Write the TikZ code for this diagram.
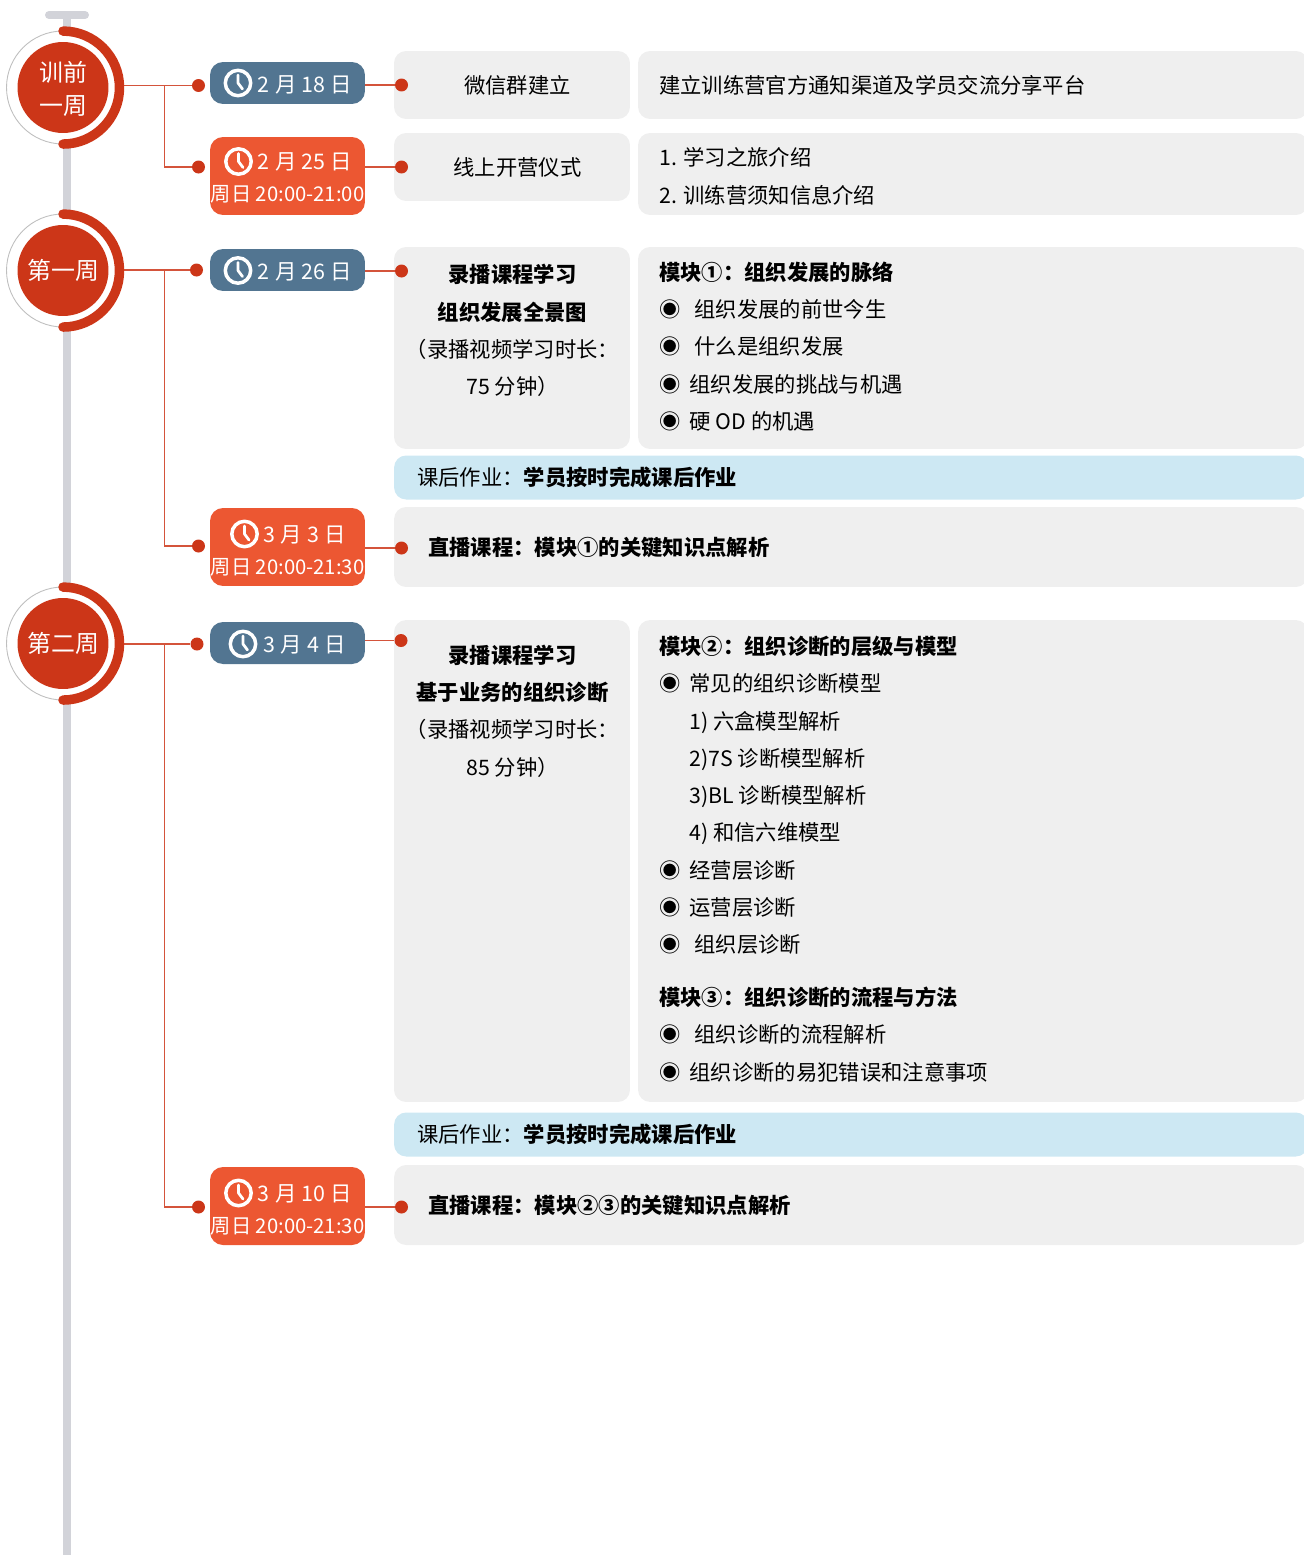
\documentclass[tikz,border=0pt]{standalone}
\usepackage{fontspec}
\setmainfont{Noto Sans CJK SC}
\newfontfamily\cstdatefont[WordSpace=1.08]{Noto Sans CJK SC}
\definecolor{main}{RGB}{204,54,24}
\definecolor{second}{RGB}{236,87,50}
\definecolor{third}{RGB}{82,117,145}
\definecolor{fourth}{RGB}{239,239,239}
\definecolor{fifth}{RGB}{205,232,243}
\definecolor{sixth}{RGB}{210,211,217}
\newcommand{\cstbul}{◉\hspace{.18cm}}
\newcommand{\cstbulw}{◉\hspace{.28cm}}
\newcommand{\cstdate}[1]{\hspace*{.7cm}\cstdatefont #1}
\newcommand{\csttime}[1]{{\fontsize{11.55}{18.4}\selectfont #1}}
\tikzset{
	% bar and week circles
	cstbar/.style      ={line width=.16cm,sixth},
	cstcap/.style      ={line width=.16cm,sixth,line cap=round},
	cstring/.style     ={circle,draw=black!25,fill=white,line width=.5pt,minimum size=2.26cm,inner sep=0},
	cstweek/.style     ={circle,fill=main,text=white,minimum size=1.82cm,inner sep=0,align=center,font=\fontsize{13.6}{18.4}\selectfont},
	cstarc/.style      ={main,line width=.19cm,line cap=round},
	% connector
	cstline/.style     ={main!85!white,line width=.75pt},
	cstdot/.style      ={circle,fill=main,minimum size=.26cm,inner sep=0},
	% date
	cstpill/.style     ={rounded corners=.26cm,minimum width=3.1cm,inner sep=0},
	cstpill1/.style    ={cstpill,fill=third,minimum height=.84cm},
	cstpill2/.style    ={cstpill,fill=second,minimum height=1.56cm},
	cstday/.style      ={inner sep=0,text=white,align=center,font=\fontsize{12.2}{18.4}\selectfont},
	% boxes
	cstbox/.style      ={fill=fourth,rounded corners=.24cm,inner sep=0,align=center,font=\fontsize{12.13}{21.2}\selectfont},
	cstbox1/.style     ={cstbox,minimum width=4.72cm},
	cstbox2/.style     ={cstbox,minimum width=13.4cm},
	cstbox3/.style     ={cstbox,minimum width=18.28cm,minimum height=1.6cm},
	cstnote/.style     ={cstbox,fill=fifth,minimum width=18.28cm,minimum height=.88cm},
	csttext/.style     ={inner sep=0,align=left,anchor=west,font=\fontsize{12.13}{21.2}\selectfont},
	cstmid/.style      ={inner sep=0,align=center,font=\fontsize{12.13}{21.2}\selectfont},
	clockicon/.pic     ={
		\draw[white,line width=.07cm] (0,0) circle (12.7);
		\draw[white,line width=.055cm,line cap=round,line join=round] (0,-8)--(0,0)--(4.5,6);
	}
}
\begin{document}
\begin{tikzpicture}[x=.02cm,y=-.02cm]
	\useasboundingbox (0,0) rectangle (1303,1555);
	% time line
	\coordinate (top) at (67,15);
	\coordinate (end) at (67,1555);
	\draw[cstbar] (top)--(end);
	\coordinate (capl) at (49,15);
	\coordinate (capr) at (85,15);
	\draw[cstcap] (capl)--(capr);
	% boxes
	\node[cstbox1,minimum height=1.36cm] (a1) at (512,85) {\hspace*{.22cm}微信群建立};
	\node[cstbox2,minimum height=1.36cm] (b1) at (973,85) {};
	\node[csttext] (t1) at (659,85) {建立训练营官方通知渠道及学员交流分享平台};
	\node[cstbox1,minimum height=1.36cm] (a2) at (512,167) {\hspace*{.22cm}线上开营仪式};
	\node[cstbox2,minimum height=1.64cm] (b2) at (973,174) {};
	\node[csttext] (t2) at (659,176.3) {1. 学习之旅介绍\\2. 训练营须知信息介绍};
	\node[cstbox1,minimum height=4.04cm] (a3) at (512,348) {};
	\node[cstmid] (m3) at (512.5,330.5) {\textbf{录播课程学习}\\\textbf{组织发展全景图}\\（录播视频学习时长：\\75 分钟）};
	\node[cstbox2,minimum height=4.04cm] (b3) at (973,348) {};
	\node[csttext] (t3) at (659,346.5) {\textbf{模块①：组织发展的脉络}\\\cstbulw 组织发展的前世今生\\\cstbulw 什么是组织发展\\\cstbul 组织发展的挑战与机遇\\\cstbul 硬 OD 的机遇};
	\node[cstnote] (n3) at (851,477.5) {};
	\node[csttext] (nt3) at (417,477) {课后作业：\textbf{学员按时完成课后作业}};
	\node[cstbox3] (w4) at (851,547) {};
	\node[csttext] (t4) at (428,547.5) {\textbf{直播课程：模块①的关键知识点解析}};
	\node[cstbox1,minimum height=9.64cm] (a5) at (512,861) {};
	\node[cstmid] (m5) at (512.5,711) {\textbf{录播课程学习}\\\textbf{基于业务的组织诊断}\\（录播视频学习时长：\\85 分钟）};
	\node[cstbox2,minimum height=9.64cm] (b5) at (973,861) {};
	\node[csttext] (t5) at (659,795.4) {\textbf{模块②：组织诊断的层级与模型}\\\cstbul 常见的组织诊断模型\\\hspace*{.6cm}1) 六盒模型解析\\\hspace*{.6cm}2)7S 诊断模型解析\\\hspace*{.6cm}3)BL 诊断模型解析\\\hspace*{.6cm}4) 和信六维模型\\\cstbul 经营层诊断\\\cstbul 运营层诊断\\\cstbulw 组织层诊断};
	\node[csttext] (t6) at (659,1034.5) {\textbf{模块③：组织诊断的流程与方法}\\\cstbulw 组织诊断的流程解析\\\cstbul 组织诊断的易犯错误和注意事项};
	\node[cstnote] (n5) at (851,1134.5) {};
	\node[csttext] (nt5) at (417,1134) {课后作业：\textbf{学员按时完成课后作业}};
	\node[cstbox3] (w6) at (851,1205) {};
	\node[csttext] (t7) at (428,1205.5) {\textbf{直播课程：模块②③的关键知识点解析}};
	% dates
	\node[cstpill1] (p1) at (287.5,83) {};
	\node[cstday] (q1) at (287.5,85) {\cstdate{2 月 18 日}};
	\pic at (238,83) {clockicon};
	\node[cstpill2] (p2) at (287.5,176) {};
	\node[cstday] (q2) at (287.5,178) {\cstdate{2 月 25 日}\\\csttime{周日 20:00-21:00}};
	\pic at (238.5,161.5) {clockicon};
	\node[cstpill1] (p3) at (287.5,270) {};
	\node[cstday] (q3) at (287.5,272) {\cstdate{2 月 26 日}};
	\pic at (238,270.5) {clockicon};
	\node[cstpill2] (p4) at (287.5,547) {};
	\node[cstday] (q4) at (287.5,551) {\cstdate{3 月 3 日}\\\csttime{周日 20:00-21:30}};
	\pic at (244.5,534) {clockicon};
	\node[cstpill1] (p5) at (287.5,643) {};
	\node[cstday] (q5) at (287.5,645) {\cstdate{3 月 4 日}};
	\pic at (243,644) {clockicon};
	\node[cstpill2] (p6) at (287.5,1206) {};
	\node[cstday] (q6) at (287.5,1210) {\cstdate{3 月 10 日}\\\csttime{周日 20:00-21:30}};
	\pic at (238.5,1193) {clockicon};
	% week circles
	\node[cstring] (r0) at (63,87.5) {};
	\node[cstring] (r1) at (63,270.5) {};
	\node[cstring] (r2) at (63,643.5) {};
	% dots
	\node[cstdot] (d1) at (198.5,85.5) {};
	\node[cstdot] (d2) at (198.5,167) {};
	\node[cstdot] (d3) at (196.5,270) {};
	\node[cstdot] (d4) at (198.5,546) {};
	\node[cstdot] (d5) at (197,644) {};
	\node[cstdot] (d6) at (198.5,1207) {};
	\node[cstdot] (e1) at (401.5,85) {};
	\node[cstdot] (e2) at (401.5,167) {};
	\node[cstdot] (e3) at (401.5,271) {};
	\node[cstdot] (e4) at (401.5,548) {};
	\node[cstdot] (e5) at (401,640.5) {};
	\node[cstdot] (e6) at (401.5,1207) {};
	% connectors
	\coordinate (j1) at (164.5,85.5);
	\coordinate (j3) at (164.5,270);
	\coordinate (j5) at (164.5,644.5);
	\draw[cstline] (d1-|r0.east)--(d1);
	\draw[cstline] (j1)|-(d2);
	\draw[cstline] (d3-|r1.east)--(d3);
	\draw[cstline] (j3)|-(d4);
	\draw[cstline] (d5-|r2.east)--(d5);
	\draw[cstline] (j5)|-(d6);
	\foreach \i in {1,...,6}
		\draw[cstline] (e\i-|p\i.east)--(e\i);
	% arcs
	\foreach \i in {0,1,2}
		\draw[cstarc] (r\i.north)++(0,.5) arc[start angle=90,end angle=-90,radius=1.13cm];
	\node[cstweek] (w0) at (r0) {\raisebox{-.03cm}[\height][\depth]{训前}\\\raisebox{-.03cm}[\height][\depth]{一周}};
	\node[cstweek] (w1) at (r1) {\hspace*{.03cm}第一周};
	\node[cstweek] (w2) at (r2) {\hspace*{.03cm}第二周};
\end{tikzpicture}
\end{document}
